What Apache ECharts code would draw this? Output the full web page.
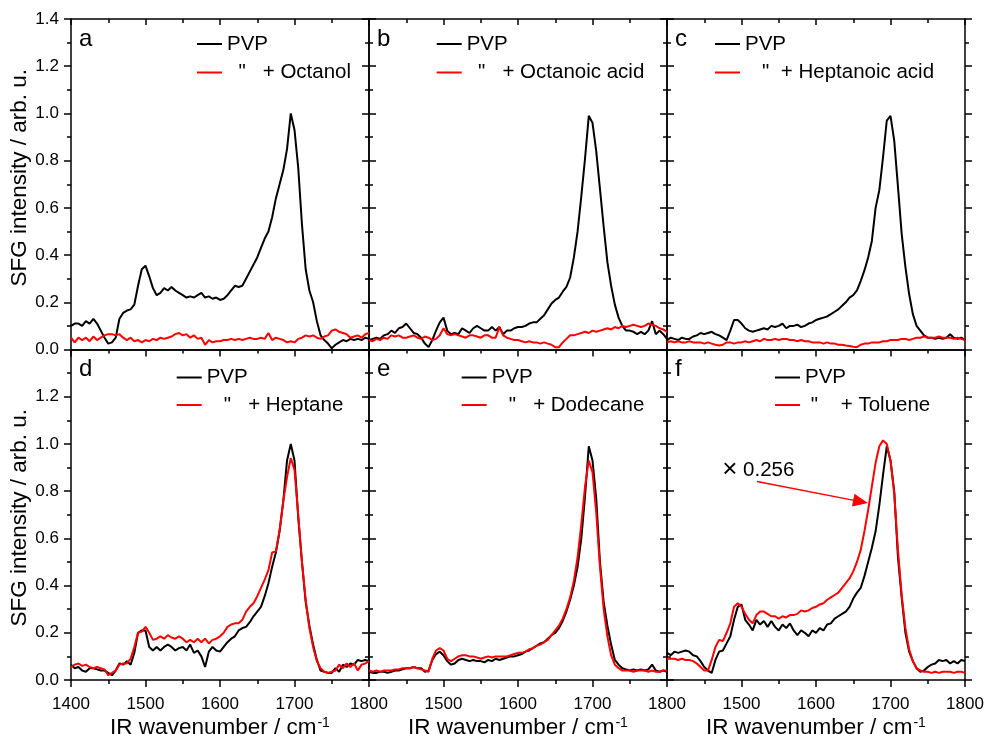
<!DOCTYPE html>
<html><head><meta charset="utf-8">
<script src="https://cdn.jsdelivr.net/npm/echarts@6/dist/echarts.min.js"></script>
<style>html,body{margin:0;padding:0;background:#fff}#c{width:987px;height:734px}</style>
</head><body><div id="c"></div>
<script>
// ---------- data ----------
const wavenumber = [
1400,1405,1410,1415,1420,1425,1430,1435,1440,1445,
1450,1455,1460,1465,1470,1475,1480,1485,1490,1495,
1500,1505,1510,1515,1520,1525,1530,1535,1540,1545,
1550,1555,1560,1565,1570,1575,1580,1585,1590,1595,
1600,1605,1610,1615,1620,1625,1630,1635,1640,1645,
1650,1655,1660,1665,1670,1675,1680,1685,1690,1695,
1700,1705,1710,1715,1720,1725,1730,1735,1740,1745,
1750,1755,1760,1765,1770,1775,1780,1785,1790,1795,
1800];
const xTickValues = [1400,1500,1600,1700,1800];
const yTickValues = [0,0.2,0.4,0.6,0.8,1.0,1.2,1.4];

const aPVP = [
0.10,0.11,0.11,0.10,0.12,0.11,0.13,0.11,0.08,0.05,
0.025,0.03,0.05,0.13,0.155,0.165,0.17,0.19,0.27,0.34,
0.355,0.31,0.26,0.23,0.24,0.26,0.25,0.265,0.25,0.24,
0.23,0.22,0.225,0.22,0.23,0.24,0.22,0.225,0.215,0.22,
0.21,0.215,0.23,0.25,0.27,0.265,0.27,0.30,0.33,0.36,
0.39,0.43,0.47,0.50,0.56,0.64,0.70,0.76,0.85,1.00,
0.93,0.77,0.53,0.34,0.25,0.20,0.12,0.06,0.04,0.025,
0.005,0.02,0.03,0.04,0.035,0.045,0.04,0.045,0.04,0.05,
0.045];
const aOctanol = [
0.05,0.03,0.05,0.04,0.05,0.035,0.055,0.04,0.05,0.06,
0.065,0.065,0.06,0.065,0.05,0.04,0.05,0.035,0.04,0.03,
0.04,0.035,0.045,0.04,0.05,0.045,0.05,0.055,0.065,0.07,
0.06,0.065,0.05,0.06,0.045,0.05,0.02,0.04,0.03,0.035,
0.035,0.04,0.04,0.045,0.04,0.045,0.04,0.045,0.05,0.045,
0.045,0.05,0.045,0.07,0.04,0.05,0.045,0.04,0.03,0.035,
0.03,0.045,0.05,0.06,0.055,0.06,0.05,0.045,0.055,0.06,
0.08,0.085,0.075,0.07,0.065,0.05,0.055,0.06,0.05,0.065,
0.07];
const bPVP = [
0.04,0.045,0.05,0.045,0.06,0.065,0.08,0.07,0.09,0.095,
0.11,0.09,0.07,0.065,0.05,0.025,0.01,0.04,0.08,0.115,
0.135,0.08,0.065,0.07,0.065,0.09,0.08,0.07,0.09,0.10,
0.09,0.08,0.08,0.095,0.08,0.095,0.065,0.08,0.08,0.09,
0.095,0.095,0.10,0.11,0.115,0.115,0.13,0.145,0.17,0.195,
0.21,0.22,0.245,0.265,0.305,0.39,0.50,0.65,0.81,0.99,
0.96,0.84,0.68,0.52,0.37,0.27,0.19,0.135,0.10,0.08,
0.08,0.075,0.065,0.075,0.065,0.08,0.12,0.065,0.08,0.065,
0.045];
const bOctanoicAcid = [
0.04,0.035,0.045,0.04,0.05,0.045,0.06,0.055,0.06,0.05,
0.05,0.055,0.06,0.05,0.045,0.055,0.05,0.04,0.045,0.06,
0.09,0.065,0.06,0.065,0.06,0.055,0.05,0.06,0.06,0.055,
0.05,0.06,0.06,0.05,0.05,0.095,0.06,0.05,0.045,0.04,
0.04,0.035,0.03,0.035,0.03,0.03,0.025,0.03,0.025,0.02,
0.01,0.01,0.03,0.045,0.06,0.06,0.065,0.07,0.075,0.07,
0.08,0.075,0.08,0.085,0.09,0.085,0.095,0.09,0.10,0.095,
0.10,0.105,0.10,0.095,0.10,0.11,0.105,0.10,0.09,0.085,
0.075];
const cPVP = [
0.04,0.05,0.045,0.04,0.05,0.045,0.045,0.055,0.06,0.07,
0.065,0.07,0.075,0.065,0.06,0.05,0.04,0.08,0.125,0.125,
0.11,0.09,0.08,0.075,0.08,0.085,0.09,0.085,0.10,0.095,
0.10,0.11,0.09,0.10,0.10,0.105,0.095,0.10,0.11,0.115,
0.125,0.13,0.135,0.14,0.15,0.16,0.17,0.185,0.20,0.22,
0.23,0.25,0.29,0.335,0.39,0.46,0.60,0.675,0.815,0.97,
0.99,0.885,0.69,0.49,0.35,0.235,0.15,0.10,0.08,0.06,
0.05,0.05,0.045,0.05,0.045,0.05,0.065,0.05,0.045,0.05,
0.04];
const cHeptanoicAcid = [
0.03,0.035,0.03,0.035,0.03,0.03,0.035,0.03,0.03,0.03,
0.025,0.03,0.025,0.02,0.017,0.02,0.03,0.03,0.025,0.03,
0.03,0.035,0.03,0.035,0.04,0.035,0.045,0.04,0.04,0.045,
0.04,0.045,0.045,0.04,0.04,0.035,0.04,0.035,0.035,0.03,
0.03,0.03,0.025,0.03,0.025,0.025,0.02,0.02,0.017,0.015,
0.012,0.01,0.02,0.025,0.025,0.03,0.03,0.03,0.035,0.035,
0.04,0.04,0.04,0.045,0.045,0.04,0.045,0.05,0.05,0.055,
0.05,0.05,0.05,0.055,0.05,0.05,0.05,0.045,0.05,0.045,
0.04];
const dPVP = [
0.065,0.05,0.055,0.04,0.035,0.05,0.05,0.045,0.04,0.04,
0.03,0.02,0.04,0.07,0.065,0.08,0.065,0.115,0.20,0.21,
0.21,0.14,0.125,0.14,0.125,0.14,0.15,0.14,0.125,0.135,
0.14,0.125,0.15,0.115,0.125,0.10,0.055,0.12,0.14,0.125,
0.12,0.14,0.16,0.175,0.185,0.21,0.22,0.225,0.245,0.27,
0.29,0.31,0.355,0.41,0.48,0.54,0.63,0.76,0.93,1.00,
0.93,0.69,0.50,0.33,0.23,0.15,0.085,0.04,0.035,0.03,
0.03,0.05,0.035,0.065,0.055,0.07,0.065,0.085,0.08,0.085,
0.08];
const dHeptane = [
0.055,0.065,0.07,0.06,0.065,0.055,0.05,0.055,0.05,0.045,
0.02,0.03,0.04,0.065,0.07,0.07,0.09,0.14,0.20,0.205,
0.225,0.20,0.17,0.175,0.185,0.175,0.19,0.18,0.175,0.185,
0.175,0.16,0.17,0.16,0.175,0.16,0.175,0.155,0.17,0.175,
0.185,0.20,0.225,0.235,0.24,0.24,0.255,0.29,0.31,0.325,
0.355,0.39,0.425,0.465,0.54,0.545,0.635,0.76,0.86,0.94,
0.89,0.70,0.50,0.34,0.22,0.14,0.08,0.05,0.035,0.03,
0.035,0.04,0.065,0.05,0.07,0.055,0.07,0.04,0.065,0.07,
0.08];
const ePVP = [
0.035,0.03,0.03,0.035,0.035,0.03,0.035,0.04,0.04,0.045,
0.05,0.05,0.055,0.05,0.05,0.035,0.04,0.085,0.11,0.12,
0.105,0.08,0.065,0.07,0.085,0.09,0.085,0.08,0.085,0.08,
0.08,0.075,0.085,0.08,0.09,0.085,0.09,0.095,0.10,0.10,
0.105,0.11,0.12,0.125,0.135,0.145,0.155,0.16,0.175,0.19,
0.20,0.22,0.25,0.29,0.34,0.40,0.48,0.60,0.78,0.99,
0.93,0.77,0.50,0.33,0.23,0.15,0.085,0.065,0.05,0.045,
0.04,0.045,0.04,0.045,0.04,0.045,0.065,0.04,0.035,0.04,
0.035];
const eDodecane = [
0.04,0.035,0.04,0.035,0.04,0.04,0.04,0.045,0.045,0.05,
0.05,0.05,0.055,0.05,0.045,0.04,0.035,0.09,0.125,0.135,
0.125,0.09,0.08,0.09,0.10,0.105,0.105,0.10,0.10,0.095,
0.09,0.095,0.10,0.095,0.10,0.10,0.10,0.10,0.105,0.11,
0.115,0.115,0.12,0.13,0.135,0.145,0.15,0.16,0.17,0.19,
0.21,0.23,0.26,0.30,0.35,0.42,0.52,0.66,0.82,0.93,
0.88,0.71,0.48,0.30,0.185,0.105,0.065,0.05,0.04,0.04,
0.04,0.035,0.04,0.04,0.04,0.035,0.04,0.035,0.035,0.04,
0.04];
const fPVP = [
0.115,0.105,0.12,0.115,0.12,0.125,0.12,0.105,0.10,0.08,
0.055,0.04,0.03,0.085,0.12,0.125,0.155,0.185,0.255,0.31,
0.32,0.255,0.235,0.21,0.255,0.235,0.25,0.225,0.25,0.225,
0.21,0.235,0.22,0.24,0.21,0.19,0.21,0.20,0.185,0.21,
0.20,0.22,0.21,0.235,0.24,0.26,0.27,0.28,0.29,0.31,
0.345,0.37,0.39,0.44,0.50,0.56,0.63,0.74,0.87,0.99,
0.93,0.80,0.52,0.35,0.20,0.12,0.08,0.05,0.035,0.04,
0.055,0.065,0.07,0.085,0.08,0.085,0.07,0.08,0.07,0.085,
0.08];
const fToluene = [
0.09,0.09,0.09,0.085,0.09,0.085,0.085,0.08,0.07,0.055,
0.04,0.04,0.085,0.14,0.17,0.165,0.20,0.24,0.31,0.325,
0.31,0.28,0.255,0.24,0.275,0.29,0.29,0.28,0.27,0.27,
0.26,0.27,0.265,0.275,0.275,0.28,0.295,0.29,0.295,0.305,
0.31,0.32,0.325,0.34,0.35,0.36,0.37,0.39,0.41,0.43,
0.46,0.50,0.55,0.63,0.72,0.82,0.92,0.99,1.015,1.0,
0.93,0.79,0.55,0.36,0.22,0.13,0.08,0.05,0.04,0.035,
0.035,0.03,0.035,0.03,0.035,0.035,0.035,0.03,0.035,0.035,
0.03];

const letters = ['a','b','c','d','e','f'];
const additiveNames = ['  "   + Octanol','  "   + Octanoic acid','   "  + Heptanoic acid','   "   + Heptane','   "   + Dodecane',' "    + Toluene'];
const pvpSeries = [aPVP,bPVP,cPVP,dPVP,ePVP,fPVP];
const additiveSeries = [aOctanol,bOctanoicAcid,cHeptanoicAcid,dHeptane,eDodecane,fToluene];
const scaleLabel = '{m|\u00D7} 0.256';
const arrowFrom = [1520.8, 0.841];
const arrowTo = [1659.8, 0.7556];
const scaleLabelAt = [1472.7, 0.89];

// ---------- layout ----------
const FONT = '"Liberation Sans", Arial, Helvetica, sans-serif';
const colLeft = [71, 369, 667], rowTop = [19, 349.5], W = 298, H = 330.5;
const legendLeft = [197, 436.7, 715, 176.7, 461.7, 775];
const legendRowCenter = [[41, 69.5], [374.5, 402]];
const yNamePadding = [[0,0,0,13], [0,6,0,0]];

const pairs = arr => wavenumber.map((x, i) => [x, arr[i]]);
const axisLineStyle = {color:'#000', width:1.5};

const grid = [], xAxis = [], yAxis = [], series = [], legend = [], title = [];
for (let p = 0; p < 6; p++) {
  const col = p % 3, row = Math.floor(p / 3);
  grid.push({left: colLeft[col], top: rowTop[row], width: W, height: H,
    containLabel: false, outerBoundsMode: 'none'});
  const xBase = {
    gridIndex: p, type: 'value', min: xTickValues[0], max: xTickValues[xTickValues.length-1],
    interval: xTickValues[1]-xTickValues[0],
    axisLine: {show: true, onZero: false, lineStyle: axisLineStyle},
    splitLine: {show: false}, minorSplitLine: {show: false}
  };
  xAxis.push(Object.assign({}, xBase, {
    position: 'bottom',
    axisTick: {show: true, inside: false, length: 7, lineStyle: axisLineStyle},
    minorTick: {show: true, splitNumber: 2, length: 4, lineStyle: axisLineStyle},
    axisLabel: {show: row === 1, showMinLabel: col === 0, showMaxLabel: true, margin: 16,
      fontSize: 17, color: '#000', fontFamily: FONT, formatter: v => String(v)},
    name: row === 1 ? 'IR wavenumber / cm{sup|-1}' : '',
    nameLocation: 'middle', nameGap: 36,
    nameTextStyle: {fontSize: 22.5, color: '#000', fontFamily: FONT,
      rich: {sup: {fontSize: 14, color: '#000', fontFamily: FONT, verticalAlign: 'top', padding:[0,0,0,1]}}}
  }));
  xAxis.push(Object.assign({}, xBase, {
    position: 'top',
    axisTick: {show: true, inside: true, length: 6, lineStyle: axisLineStyle},
    minorTick: {show: true, splitNumber: 2, length: 4, lineStyle: axisLineStyle},
    axisLabel: {show: false}
  }));
  const yBase = {
    gridIndex: p, type: 'value', min: yTickValues[0], max: yTickValues[yTickValues.length-1],
    interval: yTickValues[1]-yTickValues[0],
    axisLine: {show: true, onZero: false, lineStyle: axisLineStyle},
    axisTick: {show: true, inside: false, length: 7, lineStyle: axisLineStyle},
    minorTick: {show: true, splitNumber: 2, length: 4, lineStyle: axisLineStyle},
    splitLine: {show: false}, minorSplitLine: {show: false}
  };
  yAxis.push(Object.assign({}, yBase, {
    position: 'left',
    axisLabel: {show: col === 0, showMaxLabel: row === 0, showMinLabel: true, margin: 12,
      fontSize: 17, color: '#000', fontFamily: FONT, formatter: v => v.toFixed(1)},
    name: col === 0 ? 'SFG intensity / arb. u.' : '',
    nameLocation: 'middle', nameGap: 37,
    nameTextStyle: {fontSize: 22.5, color: '#000', fontFamily: FONT, padding: yNamePadding[row]}
  }));
  yAxis.push(Object.assign({}, yBase, {position: 'right', axisLabel: {show: false}}));

  series.push({
    type: 'line', name: 'PVP', xAxisIndex: 2*p, yAxisIndex: 2*p, data: pairs(pvpSeries[p]),
    symbol: 'none', showSymbol: false, color: '#000', lineStyle: {color: '#000', width: 2}, silent: true, z: 2
  });
  const add = {
    type: 'line', name: additiveNames[p], xAxisIndex: 2*p, yAxisIndex: 2*p, data: pairs(additiveSeries[p]),
    symbol: 'none', showSymbol: false, color: '#ff0000', lineStyle: {color: '#ff0000', width: 2}, silent: true, z: 3
  };
  if (p === 5) {
    add.markLine = {
      silent: true, animation: false, symbol: ['none', 'triangle'], symbolSize: [13, 15],
      lineStyle: {color: '#ff0000', width: 1.5, type: 'solid'}, label: {show: false},
      data: [[{coord: arrowFrom}, {coord: arrowTo}]]
    };
    add.markPoint = {
      silent: true, animation: false, symbol: 'circle', symbolSize: 2,
      itemStyle: {color: 'rgba(255,255,255,0)', borderWidth: 0},
      label: {show: true, position: 'right', distance: 0, formatter: scaleLabel, color: '#000',
        fontSize: 20.5, fontFamily: FONT,
        rich: {m: {fontSize: 26, color: '#000', fontFamily: FONT}}},
      data: [{coord: scaleLabelAt, value: 0}]
    };
  }
  series.push(add);

  const names = ['PVP', additiveNames[p]];
  for (let r = 0; r < 2; r++) {
    legend.push({
      left: legendLeft[p], top: legendRowCenter[row][r] - 12, padding: 0,
      orient: 'horizontal', icon: 'rect', itemWidth: 25, itemHeight: 2, selectedMode: false,
      data: [names[r]],
      textStyle: {fontSize: 20.5, color: '#000', fontFamily: FONT, lineHeight: 24, padding: [0,0,6,0]}
    });
  }
  title.push({
    text: letters[p], left: colLeft[col] + 8, top: rowTop[row] + 8, padding: 0,
    textStyle: {fontSize: 24, fontWeight: 'normal', color: '#000', fontFamily: FONT}
  });
}

const chart = echarts.init(document.getElementById('c'), null, {renderer: 'canvas'});
chart.setOption({
  animation: false, backgroundColor: '#fff',
  textStyle: {fontFamily: FONT},
  title, legend, grid, xAxis, yAxis, series
});
</script>
</body></html>
